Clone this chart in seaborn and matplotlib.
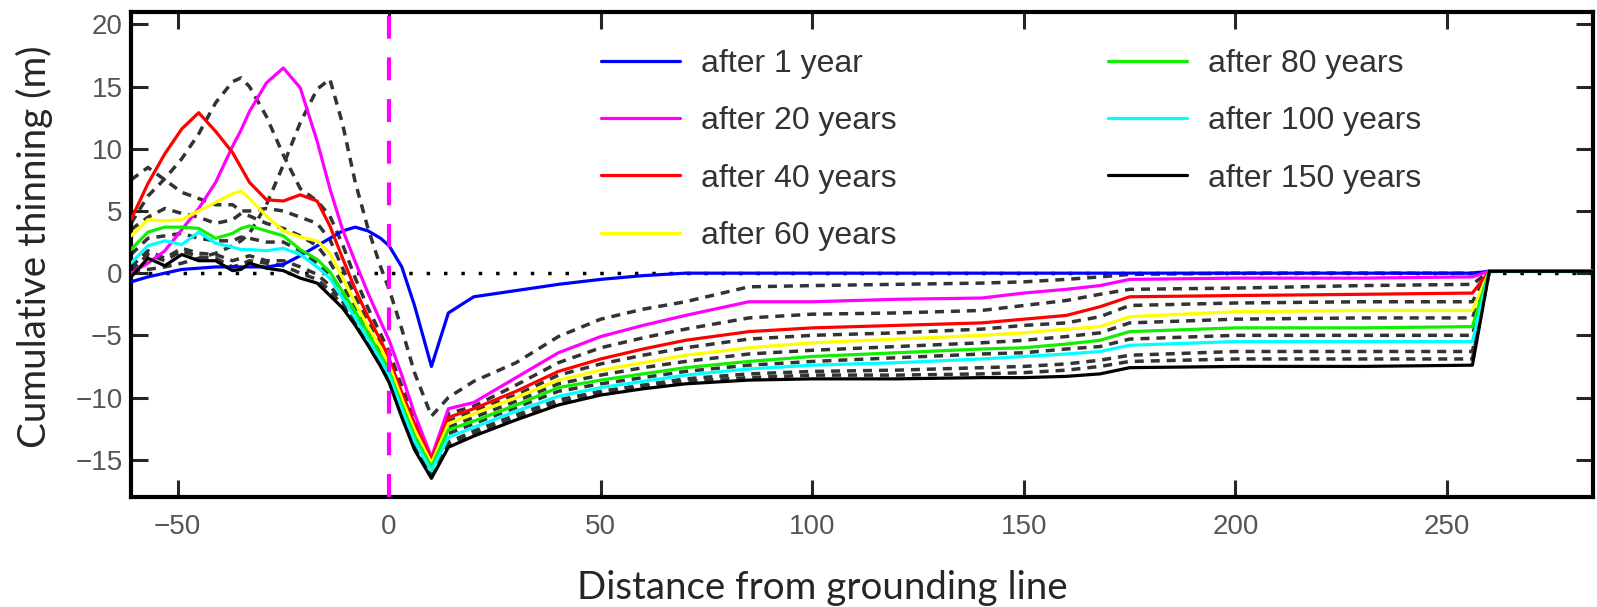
import matplotlib
matplotlib.use("Agg")
import matplotlib.pyplot as plt
import seaborn as sns

# distance from grounding line (shared x grid for every profile)
dist = [-61, -57, -53, -49, -45, -41, -37, -35, -33, -29,
        -25, -21, -17, -14, -11, -8, -5, -2, 0, 3,
        6, 10, 14, 20, 30, 40, 50, 60, 70, 85,
        100, 120, 140, 150, 160, 168, 175, 200, 230, 256,
        260, 285]

# cumulative thinning profiles (m)
yr1 = [-0.7, -0.3, 0.0, 0.3, 0.4, 0.5, 0.5, 0.5, 0.5, 0.5,
       0.7, 1.4, 2.2, 2.8, 3.4, 3.7, 3.4, 2.8, 2.2, 0.5,
       -2.6, -7.5, -3.2, -1.9, -1.4, -0.9, -0.5, -0.2, 0.0, 0.0,
       0.0, 0.0, 0.0, 0.0, 0.0, 0.0, 0.0, 0.0, 0.0, 0.0,
       0.15, 0.15]
yr20 = [0.0, 0.8, 1.8, 3.5, 5.2, 7.3, 10.2, 11.5, 13.0, 15.3,
        16.5, 14.9, 10.6, 6.8, 3.5, 0.9, -1.6, -3.9, -5.4, -8.2,
        -11.3, -14.8, -10.9, -10.4, -8.4, -6.4, -5.1, -4.2, -3.4, -2.3,
        -2.3, -2.1, -2.0, -1.6, -1.3, -1.0, -0.5, -0.4, -0.4, -0.3,
        0.15, 0.15]
yr40 = [4.3, 7.2, 9.6, 11.6, 12.9, 11.4, 9.7, 8.5, 7.3, 5.9,
        5.8, 6.3, 5.8, 3.8, 1.2, -1.3, -3.5, -5.4, -6.9, -9.6,
        -12.1, -15.0, -11.6, -10.9, -9.5, -7.9, -6.9, -6.1, -5.4, -4.7,
        -4.4, -4.2, -4.0, -3.7, -3.4, -2.7, -1.9, -1.8, -1.7, -1.6,
        0.15, 0.15]
yr60 = [3.0, 4.3, 4.2, 4.3, 5.0, 5.7, 6.4, 6.6, 6.0, 4.6,
        3.4, 2.9, 2.6, 1.6, -0.4, -2.4, -4.3, -6.0, -7.4, -10.1,
        -12.6, -15.3, -12.1, -11.3, -10.0, -8.6, -7.8, -7.2, -6.6, -6.0,
        -5.6, -5.3, -5.0, -4.8, -4.5, -4.3, -3.5, -3.1, -3.0, -3.0,
        0.15, 0.15]
yr80 = [1.9, 3.3, 3.7, 3.7, 3.6, 2.8, 3.2, 3.6, 3.8, 3.4,
        3.0, 1.9, 1.1, 0.1, -1.5, -3.1, -4.8, -6.6, -7.9, -10.6,
        -13.1, -15.6, -12.6, -11.9, -10.6, -9.2, -8.6, -8.1, -7.6, -7.1,
        -6.7, -6.4, -6.1, -6.0, -5.7, -5.4, -4.7, -4.4, -4.4, -4.3,
        0.15, 0.15]
yr100 = [0.8, 2.2, 2.6, 2.3, 3.3, 2.4, 2.1, 1.9, 1.9, 1.8,
         2.0, 1.5, 0.5, -0.4, -2.0, -3.6, -5.3, -7.0, -8.2, -11.0,
         -13.5, -15.9, -13.2, -12.4, -11.1, -9.9, -9.2, -8.7, -8.2, -7.7,
         -7.4, -7.2, -6.9, -6.7, -6.5, -6.3, -5.8, -5.5, -5.5, -5.5,
         0.15, 0.15]
yr150 = [-0.3, 1.2, 0.6, 1.5, 1.0, 1.0, 0.2, 0.3, 0.8, 0.4,
         0.2, -0.4, -0.8, -1.8, -2.8, -4.2, -5.8, -7.5, -8.8, -11.6,
         -14.2, -16.5, -14.0, -13.1, -11.8, -10.6, -9.8, -9.3, -8.9, -8.6,
         -8.5, -8.5, -8.4, -8.4, -8.3, -8.1, -7.6, -7.5, -7.5, -7.4,
         0.15, 0.15]

# intermediate years (dashed, no legend entry)
yr10 = [0.2, 0.3, 0.5, 0.8, 1.2, 1.6, 2.2, 2.6, 3.2, 5.5,
        8.7, 12.1, 14.8, 15.6, 12.0, 7.3, 3.6, 0.5, -1.3, -4.5,
        -8.0, -11.5, -10.0, -8.7, -7.2, -5.1, -3.7, -2.9, -2.3, -1.1,
        -1.0, -0.9, -0.8, -0.7, -0.5, -0.3, -0.1, 0.0, 0.0, 0.0,
        0.15, 0.15]
yr30 = [4.0, 6.2, 7.6, 9.2, 11.2, 13.7, 15.4, 15.7, 15.0, 12.6,
        9.5, 6.8, 5.8, 4.6, 2.3, -0.4, -2.8, -4.9, -6.3, -9.1,
        -11.8, -14.9, -11.3, -10.7, -9.0, -7.2, -6.0, -5.2, -4.5, -3.6,
        -3.3, -3.2, -3.0, -2.6, -2.2, -1.7, -1.3, -1.2, -1.0, -0.9,
        0.15, 0.15]
yr50 = [7.5, 8.5, 7.5, 6.5, 6.0, 5.5, 5.5, 5.0, 5.0, 5.2,
        5.0, 4.5, 4.0, 2.7, 0.4, -1.9, -3.9, -5.7, -7.1, -9.8,
        -12.4, -15.1, -11.9, -11.1, -9.8, -8.2, -7.3, -6.6, -6.0, -5.3,
        -5.0, -4.8, -4.5, -4.2, -4.0, -3.5, -2.6, -2.4, -2.3, -2.3,
        0.15, 0.15]
yr70 = [3.5, 4.5, 5.2, 4.8, 4.5, 4.0, 4.3, 4.8, 4.6, 4.0,
        3.6, 3.0, 2.2, 0.9, -0.9, -2.8, -4.6, -6.3, -7.6, -10.4,
        -12.9, -15.5, -12.4, -11.6, -10.3, -8.9, -8.2, -7.6, -7.1, -6.5,
        -6.2, -5.9, -5.6, -5.4, -5.1, -4.8, -4.0, -3.7, -3.6, -3.6,
        0.15, 0.15]
yr90 = [1.5, 2.8, 3.0, 3.2, 2.8, 2.6, 2.6, 2.9, 2.8, 2.5,
        2.5, 1.8, 0.8, -0.2, -1.8, -3.4, -5.1, -6.8, -8.1, -10.8,
        -13.3, -15.8, -12.9, -12.1, -10.8, -9.5, -8.9, -8.4, -7.9, -7.4,
        -7.1, -6.8, -6.5, -6.4, -6.1, -5.9, -5.3, -5.0, -5.0, -5.0,
        0.15, 0.15]
yr120 = [0.5, 1.8, 1.2, 2.0, 1.6, 1.5, 1.0, 1.2, 1.4, 1.0,
         1.0, 0.5, -0.1, -1.0, -2.3, -3.8, -5.5, -7.2, -8.4, -11.2,
         -13.8, -16.1, -13.6, -12.7, -11.4, -10.2, -9.5, -9.0, -8.5, -8.1,
         -7.9, -7.8, -7.6, -7.5, -7.3, -7.0, -6.6, -6.3, -6.3, -6.3,
         0.15, 0.15]
yr135 = [0.2, 1.5, 1.0, 1.8, 1.3, 1.2, 0.5, 0.7, 1.0, 0.8,
         0.6, 0.0, -0.5, -1.4, -2.6, -4.0, -5.7, -7.4, -8.6, -11.4,
         -14.0, -16.3, -13.8, -12.9, -11.6, -10.4, -9.6, -9.1, -8.7, -8.4,
         -8.2, -8.2, -8.1, -8.0, -7.8, -7.5, -7.1, -6.9, -6.9, -6.9,
         0.15, 0.15]

labels = ["after 1 year", "after 20 years", "after 40 years", "after 60 years",
          "after 80 years", "after 100 years", "after 150 years"]
colors = ["#0000ff", "#ff00ff", "#ff0000", "#ffff00", "#11ee00", "#00ffff", "#000000"]
solid = [yr1, yr20, yr40, yr60, yr80, yr100, yr150]
dashed = [yr10, yr30, yr50, yr70, yr90, yr120, yr135]

sns.set_style("ticks")
plt.rcParams["font.family"] = ["Liberation Sans", "DejaVu Sans"]

fig = plt.figure(figsize=(15.97, 6.07), dpi=100)
ax = fig.add_axes([131 / 1597, 1 - 497 / 607, 1462 / 1597, 485 / 607])

ax.axhline(0, color="k", lw=2.5, linestyle=(0, (1, 4)), zorder=1)

for y in dashed:
    sns.lineplot(x=dist, y=y, ax=ax, color="#333333", lw=2.5, linestyle=(0, (2.6, 2)), zorder=2)

for lab, y, c in zip(labels, solid, colors):
    sns.lineplot(x=dist, y=y, ax=ax, color=c, lw=2.3, label=lab, zorder=3)

ax.axvline(0, color="#ff00ff", lw=3, linestyle=(0, (5.5, 4.5)), zorder=5)

ax.set_xlim(-61, 284.5)
ax.set_ylim(-18, 21)
ax.set_xticks(range(-50, 251, 50))
ax.set_yticks(range(-15, 21, 5))
ax.tick_params(direction="in", length=12, width=2.2, top=True, right=True,
               labelsize=20, labelcolor="#555555")
ax.tick_params(axis="x", pad=12)
ax.tick_params(axis="y", pad=6)
for s in ax.spines.values():
    s.set_linewidth(3)
    s.set_color("k")

ax.legend(loc="upper left", bbox_to_anchor=(0.3215, 0.923), ncol=2, frameon=False,
          fontsize=23, labelcolor="#333333", handlelength=2.48, handletextpad=0.66,
          columnspacing=6.6, labelspacing=0.85, borderpad=0, borderaxespad=0)

ax.set_xlabel("Distance from grounding line", fontsize=27.7, family="Lato")
ax.set_ylabel("Cumulative thinning (m)", fontsize=27.7, family="Lato")
ax.xaxis.set_label_coords(0.4726, -0.1876)
ax.xaxis.label.set_va("center")
ax.yaxis.set_label_coords(-0.0663, 0.515)
ax.yaxis.label.set_va("center")

fig.savefig("out.png", dpi=100)
